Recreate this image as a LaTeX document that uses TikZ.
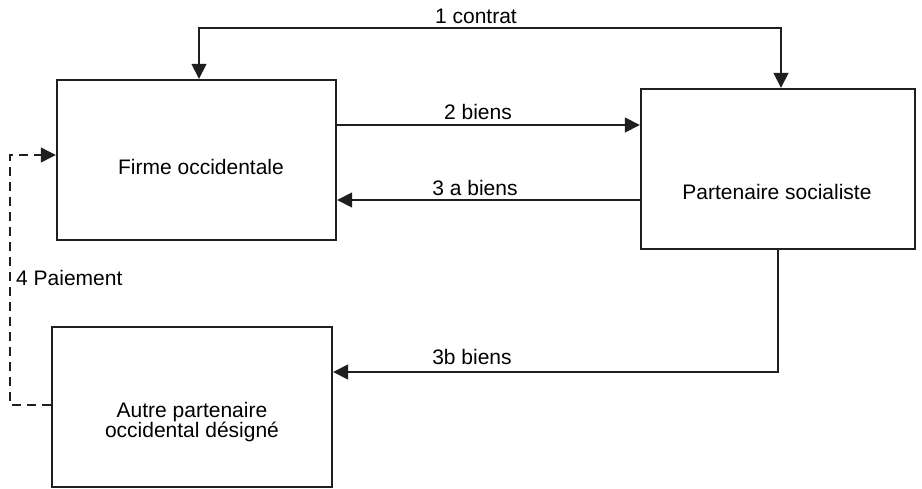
\documentclass[tikz,border=0pt]{standalone}
\usepackage{fontspec}
\setmainfont{Liberation Sans}
\usetikzlibrary{arrows.meta}
\begin{document}
\begin{tikzpicture}[x=1pt,y=-1pt,
  box/.style={draw=black!88,line width=2.4pt,minimum width=#1,minimum height=160pt,inner sep=0pt},
  conn/.style={draw=black!88,line width=1.6pt},
  tip/.style={-{Triangle[length=15pt,width=15pt]}},
  lbl/.style={font=\fontsize{21}{24}\selectfont,inner sep=0pt},
  every node/.style={font=\fontsize{21}{24}\selectfont}]
\useasboundingbox[fill=white] (0,0) rectangle (922,488);
% boxes
\node[box=279pt] (firme) at (196.5,160) {};
\node[box=274pt] (part) at (778,169) {};
\node[box=280pt] (autre) at (192,407) {};
% texts in boxes
\node[lbl] (tfirme) at (201,167) {Firme occidentale};
\node[lbl] (tpart) at (777,192) {Partenaire socialiste};
\node[lbl,align=center] (tautre) at (192,422) {Autre partenaire\\[-4pt]occidental désigné};
% helper coordinates
\coordinate (ct1) at (199,28);
\coordinate (ct2) at (781,28);
\coordinate (b2) at (0,125);
\coordinate (b3) at (0,200);
\coordinate (b3b) at (778,372);
\coordinate (p1) at (10,405);
\coordinate (p2) at (10,155);
% 1 contrat
\draw[conn,{Triangle[length=15pt,width=15pt]}-{Triangle[length=15pt,width=15pt]}]
  (firme.north -| ct1) -- (ct1) -- (ct2) -- (part.north -| ct2);
% 2 biens
\draw[conn,tip] (firme.east |- b2) -- (part.west |- b2);
% 3a biens
\draw[conn,tip] (part.west |- b3) -- (firme.east |- b3);
% 3b biens
\draw[conn,tip] (part.south -| b3b) -- (b3b) -- (autre.east |- b3b);
% 4 Paiement
\draw[conn,line width=1.2pt,dash pattern=on 9pt off 6pt,tip] (autre.west |- p1) -- (p1) -- (p2) -- (firme.west |- p2);
% labels
\node[lbl] (l1) at (476,16) {1 contrat};
\node[lbl] (l2) at (478,112) {2 biens};
\node[lbl] (l3a) at (475,188) {3 a biens};
\node[lbl] (l3b) at (472,357) {3b biens};
\node[lbl,anchor=west] (l4) at (16,278) {4 Paiement};
\end{tikzpicture}
\end{document}
